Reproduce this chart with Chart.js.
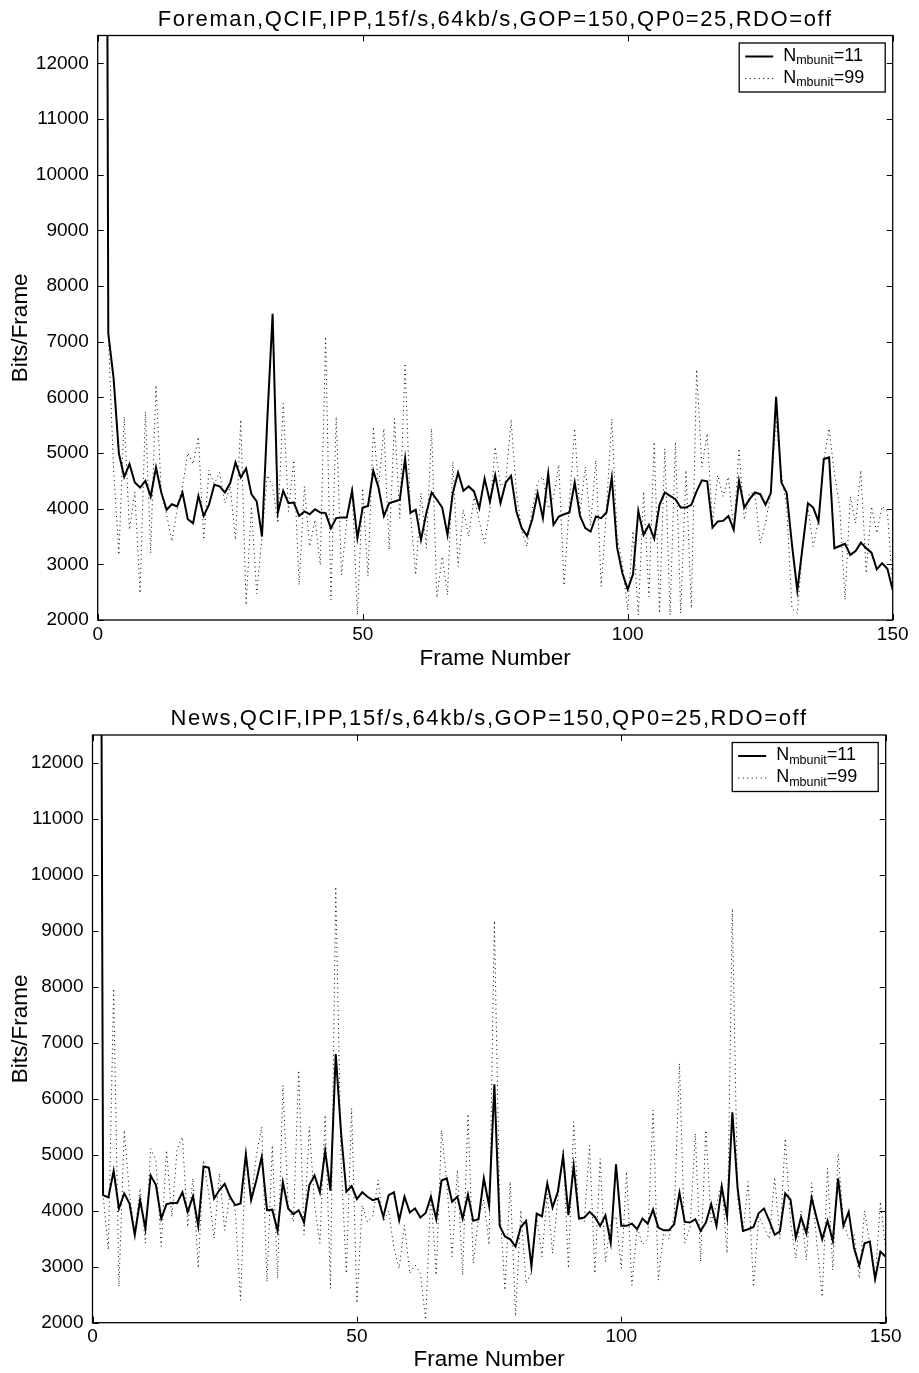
<!DOCTYPE html>
<html>
<head>
<meta charset="utf-8">
<script src="https://cdn.jsdelivr.net/npm/chart.js@4.4.1/dist/chart.umd.min.js"></script>
<style>
  html, body { margin: 0; padding: 0; background: #fff; }
  #wrap { position: relative; width: 919px; height: 1373px; background: #fff; }
  canvas { position: absolute; left: 0; }
</style>
</head>
<body>
<div id="wrap">
  <canvas id="foreman" width="919" height="686" style="top:0;width:919px;height:686px"></canvas>
  <canvas id="news" width="919" height="687" style="top:686px;width:919px;height:687px"></canvas>
</div>
<script>
// ---- data: bits spent on each frame, frames 1..150 ----
const FOREMAN_TITLE = 'Foreman,QCIF,IPP,15f/s,64kb/s,GOP=150,QP0=25,RDO=off';
const NEWS_TITLE = 'News,QCIF,IPP,15f/s,64kb/s,GOP=150,QP0=25,RDO=off';
const X_TITLE = 'Frame Number';
const Y_TITLE = 'Bits/Frame';
const X_TICKS = [0, 50, 100, 150];
const Y_TICKS = [2000, 3000, 4000, 5000, 6000, 7000, 8000, 9000, 10000, 11000, 12000];
const LEGEND_SYMBOL = 'N';
const LEGEND_SUB = 'mbunit';
const LEGEND_VALUES = ['=11', '=99'];

const foremanMb11 = [
  40000, 7150, 6340, 4990, 4570, 4800, 4470, 4380, 4500, 4220,
  4740, 4290, 3980, 4080, 4040, 4290, 3810, 3740, 4230, 3870,
  4070, 4430, 4400, 4290, 4460, 4830, 4560, 4720, 4260, 4130,
  3500, 5600, 7500, 3930, 4320, 4100, 4110, 3870, 3950, 3900,
  3990, 3930, 3920, 3650, 3830, 3840, 3840, 4320, 3470, 4020,
  4050, 4680, 4370, 3870, 4100, 4130, 4160, 4900, 3930, 3980,
  3440, 3920, 4290, 4160, 4020, 3530, 4280, 4650, 4320, 4400,
  4310, 4010, 4540, 4130, 4600, 4100, 4470, 4590, 3950, 3650,
  3510, 3810, 4280, 3830, 4630, 3710, 3860, 3900, 3930, 4470,
  3870, 3650, 3590, 3860, 3830, 3930, 4560, 3300, 2840, 2550,
  2820, 3960, 3530, 3710, 3460, 4070, 4290, 4230, 4170, 4020,
  4020, 4070, 4310, 4510, 4490, 3660, 3770, 3780, 3870, 3620,
  4500, 4020, 4170, 4290, 4260, 4070, 4280, 6010, 4470, 4280,
  3350, 2530, 3320, 4100, 4020, 3770, 4890, 4920, 3290, 3330,
  3370, 3170, 3240, 3390, 3290, 3210, 2910, 3020, 2920, 2540
];
const foremanMb99 = [
  40000, 7150, 4700, 3170, 5650, 3620, 4300, 2480, 5740, 3200,
  6220, 4300, 3900, 3410, 4000, 4400, 5000, 4800, 5290, 3440,
  4690, 4450, 4650, 4100, 4400, 3440, 5600, 2270, 4040, 2470,
  3500, 4600, 4400, 3740, 5890, 3950, 4870, 2630, 4400, 3320,
  3800, 2990, 7090, 2360, 5650, 2810, 3800, 4400, 2090, 4370,
  2780, 5470, 4400, 5440, 3260, 5620, 3830, 6610, 3920, 2810,
  4280, 3290, 5440, 2400, 3140, 2450, 4840, 2960, 3980, 3500,
  4200, 3770, 3380, 4000, 5110, 4400, 4500, 5600, 4300, 3600,
  3320, 4000, 4480, 4570, 4000, 4200, 4790, 2620, 4100, 5440,
  3900, 4750, 3700, 4870, 2600, 4000, 5610, 3500, 3000, 2180,
  3600, 2090, 4310, 2420, 5200, 2120, 5080, 2090, 5200, 2120,
  4690, 2210, 6500, 4750, 5350, 3740, 4600, 4220, 4570, 3620,
  5080, 3800, 4280, 4280, 3380, 3740, 4280, 5590, 4630, 4040,
  2200, 2120, 3320, 4040, 3320, 3800, 4870, 5440, 4630, 4040,
  2360, 4220, 3740, 4690, 2840, 4040, 3560, 4040, 3950, 2600
];
const newsMb11 = [
  33000, 4280, 4240, 4710, 4040, 4310, 4130, 3570, 4190, 3680,
  4630, 4460, 3860, 4120, 4140, 4140, 4330, 3980, 4260, 3730,
  4790, 4770, 4220, 4370, 4480, 4250, 4100, 4130, 5010, 4190,
  4550, 4960, 4010, 4020, 3640, 4510, 4040, 3940, 4010, 3790,
  4460, 4630, 4330, 5070, 4360, 6800, 5400, 4340, 4440, 4210,
  4330, 4250, 4190, 4220, 3890, 4280, 4330, 3830, 4250, 3970,
  4040, 3880, 3960, 4250, 3850, 4540, 4580, 4160, 4250, 3860,
  4290, 3820, 3850, 4580, 4090, 6260, 3730, 3540, 3490, 3360,
  3710, 3820, 3010, 3950, 3900, 4490, 4060, 4340, 4980, 3920,
  4800, 3860, 3880, 3980, 3890, 3730, 3920, 3430, 4830, 3730,
  3730, 3770, 3670, 3860, 3770, 4020, 3700, 3650, 3650, 3760,
  4320, 3800, 3790, 3850, 3640, 3790, 4120, 3730, 4430, 3890,
  5760, 4400, 3640, 3670, 3710, 3960, 4040, 3820, 3570, 3630,
  4310, 4200, 3520, 3880, 3600, 4230, 3850, 3490, 3820, 3460,
  4580, 3730, 3980, 3340, 3020, 3420, 3450, 2780, 3270, 3180
];
const newsMb99 = [
  33000, 4280, 3300, 7970, 2640, 5440, 4300, 3600, 4400, 3420,
  5110, 4900, 3360, 5080, 3890, 5100, 5320, 3710, 4580, 2970,
  4900, 4300, 3510, 4670, 3650, 4300, 4000, 2400, 5080, 4200,
  5000, 5500, 2730, 5170, 2790, 6240, 4100, 3800, 6510, 3570,
  5500, 4100, 3420, 5710, 2610, 9790, 4900, 2880, 5830, 2350,
  4100, 3800, 3900, 4550, 3800, 4000, 3330, 2970, 3740, 2880,
  3030, 2880, 2050, 4340, 2850, 5440, 4500, 3180, 4730, 2850,
  5730, 3060, 3900, 4200, 3390, 9180, 4100, 2580, 4520, 2110,
  4010, 2700, 2900, 3900, 3180, 4300, 3240, 4200, 5080, 2970,
  5590, 3900, 3800, 5170, 2880, 4930, 3090, 3800, 3900, 2970,
  4700, 2670, 3700, 3400, 3500, 5800, 2760, 3600, 3500, 3900,
  6630, 3420, 3700, 5380, 3090, 5440, 3800, 4100, 4500, 3240,
  9400, 4200, 3600, 4520, 2640, 3900, 3700, 3500, 4600, 3500,
  5290, 3800, 3150, 4000, 3120, 4500, 3400, 2460, 4760, 2940,
  5020, 3800, 3500, 3600, 2790, 4000, 3400, 2730, 4160, 3300
];

// frame index for each value (the coded sequence starts at frame 1)
const frameNumbers = foremanMb11.map((_, i) => i + 1);

// ---- look ----
Chart.defaults.font.family = '"Liberation Sans", Arial, Helvetica, sans-serif';
Chart.defaults.color = '#000';
const FONT = '"Liberation Sans", Arial, Helvetica, sans-serif';

// Boxed axes with inward tick marks, the title above the plot and the legend box.
const matlabAxes = {
  id: 'matlabAxes',
  afterDatasetsDraw(chart, args, opts) {
    const { ctx, chartArea: a, scales: { x, y } } = chart;
    ctx.save();
    const tl = 6;
    ctx.strokeStyle = '#000';
    ctx.lineWidth = 1;
    ctx.beginPath();
    y.ticks.forEach(t => {
      const py = Math.round(y.getPixelForValue(t.value)) + 0.5;
      ctx.moveTo(a.left, py); ctx.lineTo(a.left + tl, py);
      ctx.moveTo(a.right, py); ctx.lineTo(a.right - tl, py);
    });
    x.ticks.forEach(t => {
      const px = Math.round(x.getPixelForValue(t.value)) + 0.5;
      ctx.moveTo(px, a.bottom); ctx.lineTo(px, a.bottom - tl);
      ctx.moveTo(px, a.top); ctx.lineTo(px, a.top + tl);
    });
    ctx.stroke();
    ctx.lineWidth = 1.3;
    ctx.strokeRect(a.left, a.top, a.right - a.left, a.bottom - a.top);

    // title
    ctx.save();
    ctx.fillStyle = '#000';
    ctx.font = opts.titleSize + 'px ' + FONT;
    if ('letterSpacing' in ctx) ctx.letterSpacing = opts.titleSpacing + 'px';
    ctx.textAlign = 'center';
    ctx.textBaseline = 'alphabetic';
    ctx.fillText(opts.title, (a.left + a.right) / 2, a.top - opts.titleGap);
    ctx.restore();

    // legend
    const lw = opts.legendWidth, lh = opts.legendHeight;
    const lx = a.right - opts.legendInset - lw;
    const ly = a.top + opts.legendInset;
    ctx.fillStyle = '#fff';
    ctx.fillRect(lx, ly, lw, lh);
    ctx.lineWidth = 1.3;
    ctx.strokeStyle = '#000';
    ctx.strokeRect(lx, ly, lw, lh);
    chart.data.datasets.forEach((ds, i) => {
      const ry = ly + opts.legendRows[i];
      ctx.save();
      ctx.strokeStyle = ds.borderColor;
      ctx.lineWidth = ds.borderWidth;
      ctx.setLineDash(ds.borderDash || []);
      ctx.beginPath();
      ctx.moveTo(lx + 6, ry + 0.5);
      ctx.lineTo(lx + 34, ry + 0.5);
      ctx.stroke();
      ctx.restore();
      ctx.fillStyle = '#000';
      ctx.textAlign = 'left';
      ctx.textBaseline = 'middle';
      let tx = lx + 44;
      ctx.font = opts.legendSize + 'px ' + FONT;
      ctx.fillText(LEGEND_SYMBOL, tx, ry);
      tx += ctx.measureText(LEGEND_SYMBOL).width;
      ctx.font = opts.legendSubSize + 'px ' + FONT;
      ctx.fillText(LEGEND_SUB, tx, ry + 5);
      tx += ctx.measureText(LEGEND_SUB).width;
      ctx.font = opts.legendSize + 'px ' + FONT;
      ctx.fillText(LEGEND_VALUES[i], tx, ry);
    });
    ctx.restore();
  }
};

function makeChart(id, titleText, solid, dotted, box) {
  const toPoints = vals => vals.map((v, i) => ({ x: frameNumbers[i], y: v }));
  return new Chart(document.getElementById(id), {
    type: 'line',
    data: {
      datasets: [
        { label: LEGEND_SYMBOL + LEGEND_SUB + LEGEND_VALUES[0], data: toPoints(solid),
          borderColor: '#000', borderWidth: 2, pointRadius: 0, tension: 0, fill: false },
        { label: LEGEND_SYMBOL + LEGEND_SUB + LEGEND_VALUES[1], data: toPoints(dotted),
          borderColor: '#000', borderWidth: 1, borderDash: [1, 3.5], pointRadius: 0, tension: 0, fill: false }
      ]
    },
    options: {
      responsive: false,
      animation: false,
      devicePixelRatio: 1,
      layout: { padding: { left: 0, top: box.top, right: box.right, bottom: 0 } },
      plugins: {
        legend: { display: false },
        tooltip: { enabled: false },
        title: { display: false },
        matlabAxes: {
          title: titleText, titleSize: 22, titleSpacing: 1.6, titleGap: 10,
          legendWidth: 146, legendHeight: 49, legendInset: 7.5,
          legendRows: [13, 35], legendSize: 18, legendSubSize: 12.5
        }
      },
      scales: {
        x: {
          type: 'linear', min: 0, max: 150,
          afterBuildTicks: s => { s.ticks = X_TICKS.map(v => ({ value: v })); },
          afterFit: s => { s.height = box.xAxisHeight; },
          grid: { display: false, drawTicks: false },
          border: { display: false },
          ticks: { font: { size: 19 }, padding: 3, maxRotation: 0, autoSkip: false,
                   callback: v => String(v) },
          title: { display: true, text: X_TITLE, font: { size: 22.5 }, padding: { top: 0, bottom: box.xTitlePad } }
        },
        y: {
          type: 'linear', min: 2000, max: 12500,
          afterBuildTicks: s => { s.ticks = Y_TICKS.map(v => ({ value: v })); },
          afterFit: s => { s.width = box.left; },
          grid: { display: false, drawTicks: false },
          border: { display: false },
          ticks: { font: { size: 19 }, padding: 9, callback: v => String(v) },
          title: { display: true, text: Y_TITLE, font: { size: 22.5 }, padding: { top: 7, bottom: 0 } }
        }
      }
    },
    plugins: [matlabAxes]
  });
}

makeChart('foreman', FOREMAN_TITLE, foremanMb11, foremanMb99,
  { left: 97.7, right: 919 - 892.7, top: 35.5, xAxisHeight: 686 - 620, xTitlePad: 14 });
makeChart('news', NEWS_TITLE, newsMb11, newsMb99,
  { left: 92.5, right: 919 - 885.7, top: 49, xAxisHeight: 687 - 636.7, xTitlePad: 0 });
</script>
</body>
</html>
